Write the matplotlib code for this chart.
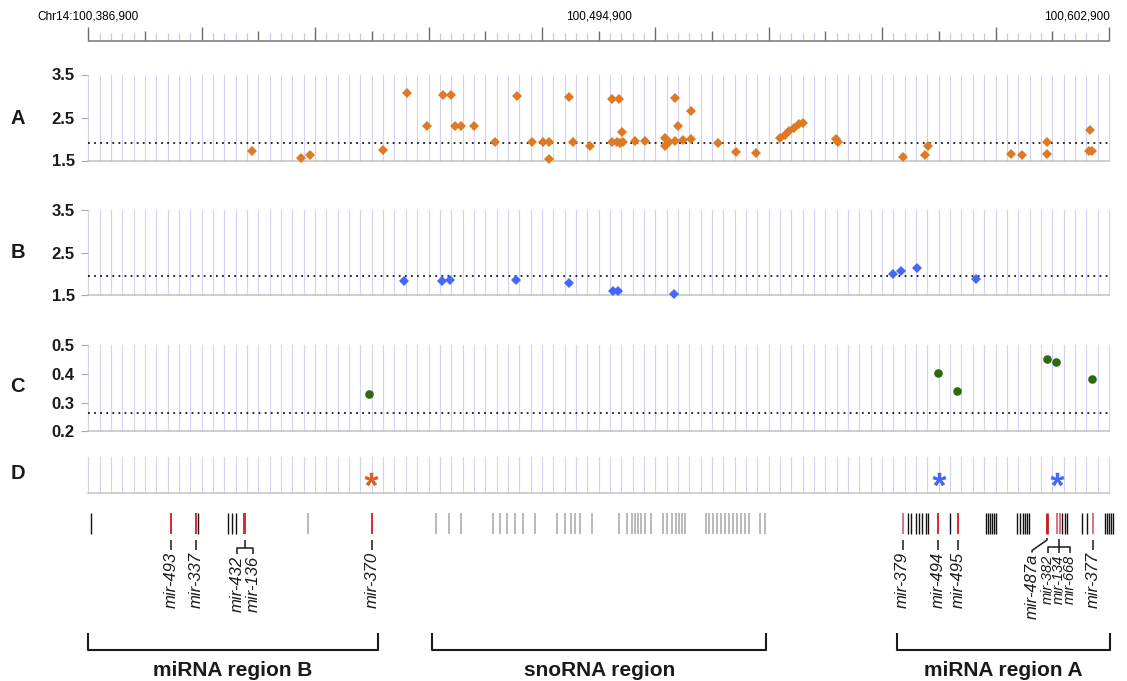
import numpy as np
import matplotlib
matplotlib.use('Agg')
import matplotlib.pyplot as plt

plt.rcParams['font.family'] = ['Liberation Sans', 'DejaVu Sans']
plt.rcParams['mathtext.fontset'] = 'custom'
plt.rcParams['mathtext.rm'] = 'Liberation Sans:bold'
plt.rcParams['mathtext.it'] = 'Liberation Sans:bold'
plt.rcParams['mathtext.bf'] = 'Liberation Sans:bold'

# ---------------- data (positions in kb from window start) ----------------
CHROM = 'Chr14'
START = 100386900
SPAN_KB = 216.0

a_pos = [34.73, 45.04, 46.92, 62.31, 67.39, 71.62, 75.13, 76.76, 77.61, 78.88,
         81.69, 86.08, 90.80, 93.97, 96.30, 97.50, 97.57, 101.80, 102.65, 106.18,
         110.90, 112.38, 110.90, 111.96, 112.89, 112.53, 113.23, 115.70, 117.82, 122.06,
         122.06, 122.97, 124.17, 124.17, 124.87, 125.80, 127.50, 127.50, 133.21, 137.08,
         141.40, 146.44, 147.35, 148.34, 149.25, 150.40, 151.30, 158.16, 158.63, 172.49,
         177.06, 177.82, 195.20, 197.63, 202.82, 202.97, 211.96, 211.73, 212.49]
a_val = [1.71, 1.56, 1.62, 1.74, 3.08, 2.31, 3.02, 3.02, 2.31, 2.31,
         2.31, 1.94, 3.00, 1.94, 1.94, 1.94, 1.53, 2.98, 1.94, 1.84,
         2.92, 2.92, 1.93, 1.94, 2.16, 1.90, 1.94, 1.95, 1.95, 2.02,
         1.84, 1.94, 1.96, 2.95, 2.31, 1.98, 2.65, 2.01, 1.91, 1.70,
         1.68, 2.03, 2.10, 2.18, 2.26, 2.34, 2.37, 2.00, 1.93, 1.59,
         1.62, 1.83, 1.65, 1.62, 1.64, 1.93, 2.22, 1.73, 1.72]
a_threshold = 1.9

b_pos = [66.88, 74.80, 76.59, 90.52, 101.82, 110.96, 112.11, 124.00, 170.25, 171.94, 175.45, 187.81]
b_val = [1.84, 1.84, 1.87, 1.86, 1.80, 1.59, 1.60, 1.54, 2.00, 2.08, 2.13, 1.875]
b_threshold = 1.95

c_pos = [59.41, 179.77, 183.92, 202.82, 204.72, 212.51]
c_val = [0.33, 0.402, 0.341, 0.452, 0.443, 0.381]
c_threshold = 0.265

d_pos_orange = [59.8]
d_pos_blue = [180.0, 205.0]

gene_black = [0.53, 23.26, 29.52, 30.35, 31.26,
              173.38, 174.12, 175.18, 175.81, 176.34, 177.29, 177.72, 182.37,
              189.99, 190.42, 190.84, 191.26, 191.69, 192.11,
              196.55, 197.19, 197.82, 198.25, 198.67, 199.10,
              206.07, 206.61, 207.14, 210.31, 211.37,
              215.18, 215.60, 216.02, 216.45, 216.87]
gene_red = [17.48, 22.82, 32.91, 33.23, 60.02, 179.90, 184.13]
gene_darkred = [202.90]
gene_pink = [172.36, 205.02, 205.55, 212.74]
gene_gray = [46.54, 73.59, 76.34, 78.88, 85.59, 87.13, 88.55, 90.31, 92.06, 94.54,
             99.13, 100.89, 102.10, 103.01, 104.07, 106.54,
             112.38, 113.95, 115.01, 115.70, 116.40, 116.91, 117.82, 119.03,
             121.70, 122.41, 123.47, 124.38, 125.08, 125.59, 126.29,
             130.73, 131.43, 132.28, 133.00, 133.84, 134.75, 135.66, 136.51, 137.35,
             138.08, 138.99, 139.89, 142.16, 143.22]

single_labels = ['mir-493', 'mir-337', 'mir-370', 'mir-379', 'mir-494', 'mir-495', 'mir-377']
single_pos = [17.48, 22.82, 60.02, 172.36, 179.90, 184.13, 212.74]

group1_labels = ['mir-432', 'mir-136']
group1_pos = [31.47, 34.86]
group1_src = 33.06

group2_labels = ['mir-382', 'mir-134', 'mir-668']
group2_pos = [203.15, 205.40, 207.75]
group2_src = 205.40

diag_label = 'mir-487a'
diag_pos = 199.73
diag_src = 202.90

region_names = ['miRNA region B', 'snoRNA region', 'miRNA region A']
region_start = [0.0, 72.83, 171.16]
region_end = [61.23, 143.43, 216.24]

# ---------------- layout ----------------
W, H = 1127, 681
fig = plt.figure(figsize=(W / 100, H / 100), dpi=100)
X0, X1 = 88.3, 1108.9
GRID = '#d2d2f7'
INK = '#1a1a1a'


def px_axes(y0, y1):
    return fig.add_axes([X0 / W, 1 - y1 / H, (X1 - X0) / W, (y1 - y0) / H])


# ruler
axr = px_axes(18, 40.5)
axr.set_xlim(0, SPAN_KB)
axr.set_ylim(40.5, 18)
axr.axis('off')
major = np.arange(0, SPAN_KB + 0.01, 12.0)
minor = np.array([m for m in np.arange(0, SPAN_KB + 0.01, 2.4)
                  if min(abs(m - major)) > 0.1])
axr.vlines(minor, 40.5, 32.5, color='#c4c4f0', lw=0.9, clip_on=False)
for k, m in enumerate(major):
    axr.vlines(m, 40.5, 26.5 if k % 2 == 0 else 31.0, color='#6a6a6a', lw=1.0, clip_on=False)
axr.hlines(40.5, 0, SPAN_KB, color='#8a8a8a', lw=1.3, clip_on=False)
axr.text(0, 15, f'{CHROM}:{START:,}', ha='center', va='center_baseline', fontsize=8.5, color='#000000', clip_on=False)
axr.text(SPAN_KB / 2, 15, f'{START + int(SPAN_KB * 500):,}', ha='center', va='center_baseline', fontsize=8.5, color='#000000')
axr.text(SPAN_KB + 0.3, 15, f'{START + int(SPAN_KB * 1000):,}', ha='right', va='center_baseline', fontsize=8.5, color='#000000')


def panel(y0, y1, ylim, yticks, fmt='{:.1f}'):
    ax = px_axes(y0, y1)
    ax.set_xlim(0, SPAN_KB)
    ax.set_ylim(*ylim)
    ax.set_xticks(np.arange(0, SPAN_KB + 0.01, 2.4))
    ax.tick_params(axis='x', length=0, labelbottom=False)
    ax.grid(axis='x', color=GRID, lw=0.8)
    for gl in ax.get_xgridlines():
        gl.set_clip_on(False)
    for s in ['top', 'right', 'left']:
        ax.spines[s].set_visible(False)
    ax.spines['bottom'].set_color('#c2c2c2')
    ax.spines['bottom'].set_linewidth(1.1)
    ax.set_yticks(yticks)
    if yticks:
        ax.set_yticklabels([fmt.format(t) for t in yticks], fontweight='bold', fontsize=12, color=INK)
    ax.tick_params(axis='y', length=4.8, width=0.8, color='#a8a8a8', pad=5)
    ax.set_axisbelow(True)
    ax.patch.set_alpha(0)
    return ax


dots = dict(color='#1e1e1e', lw=1.35, linestyle=(0, (0.95, 2.3)), zorder=2)

axA = panel(74.5, 160.5, (1.5, 3.5), [1.5, 2.5, 3.5])
axA.axhline(a_threshold, **dots)
axA.plot(a_pos, a_val, 'D', color='#DE7A24', ms=5.2, mew=0, zorder=3, clip_on=False)

axB = panel(210, 295.3, (1.5, 3.5), [1.5, 2.5, 3.5])
axB.axhline(b_threshold, **dots)
axB.plot(b_pos, b_val, 'D', color='#4668F6', ms=5.2, mew=0, zorder=3, clip_on=False)

axC = panel(345.3, 431.3, (0.2, 0.5), [0.2, 0.3, 0.4, 0.5])
axC.axhline(c_threshold, **dots)
axC.plot(c_pos, c_val, 'o', color='#2E6A10', ms=6.2, mew=0, zorder=3, clip_on=False)

axD = panel(456.7, 493.3, (0, 1), [])
axD.plot(d_pos_orange, [0.39] * len(d_pos_orange), ls='none', marker=r'$*$', color='#DA6222', ms=10, mew=0, zorder=3)
axD.plot(d_pos_blue, [0.39] * len(d_pos_blue), ls='none', marker=r'$*$', color='#4668F6', ms=10, mew=0, zorder=3)

for letter, yc in zip('ABCD', [117, 250, 385, 471.5]):
    fig.text(17.5 / W, 1 - yc / H, letter, ha='center', va='center_baseline', fontsize=14.5, fontweight='bold', color=INK)

# gene track and annotation
axt = px_axes(500, 681)
axt.set_xlim(0, SPAN_KB)
axt.set_ylim(681, 500)
axt.axis('off')
g0, g1 = 513, 534
axt.vlines(gene_gray, g0, g1, color='#a6a6a6', lw=1.1, clip_on=False)
axt.vlines(gene_black, g0, g1, color='#111111', lw=1.0, clip_on=False)
axt.vlines(gene_pink, g0, g1, color='#e0707c', lw=1.4, clip_on=False)
axt.vlines(gene_red, g0, g1, color='#dd2a2a', lw=1.4, clip_on=False)
axt.vlines(gene_darkred, g0, g1, color='#c81818', lw=2.0, clip_on=False)

lab = dict(rotation=90, ha='center', va='top', style='italic', fontsize=12, color=INK)
lab_small = dict(lab, fontsize=10.5)
cl = dict(color=INK, lw=1.1, solid_capstyle='butt')

for name, p in zip(single_labels, single_pos):
    axt.plot([p, p], [540, 550], **cl)
    axt.text(p, 552, name, **lab)

axt.plot([group1_src, group1_src], [540, 547.5], **cl)
axt.plot([group1_pos[0], group1_pos[0], group1_pos[-1], group1_pos[-1]], [554, 547.5, 547.5, 554], **cl)
for name, p in zip(group1_labels, group1_pos):
    axt.text(p, 556, name, **lab)

axt.plot([group2_src, group2_src], [539, 553], **cl)
axt.plot([group2_pos[0], group2_pos[0], group2_pos[-1], group2_pos[-1]], [553, 547, 547, 553], **cl)
for name, p in zip(group2_labels, group2_pos):
    axt.text(p, 555, name, **lab_small)

axt.plot([diag_src, diag_src, diag_pos, diag_pos], [538, 540, 550.5, 552.5], **cl)
axt.text(diag_pos, 554, diag_label, **lab)

for name, s, e in zip(region_names, region_start, region_end):
    axt.plot([s, s, e, e], [634, 650, 650, 634], color=INK, lw=1.5, clip_on=False)
    axt.text((s + e) / 2, 675.5, name, ha='center', va='baseline', fontsize=15, fontweight='bold', color=INK)

fig.savefig('out.png', dpi=100)
